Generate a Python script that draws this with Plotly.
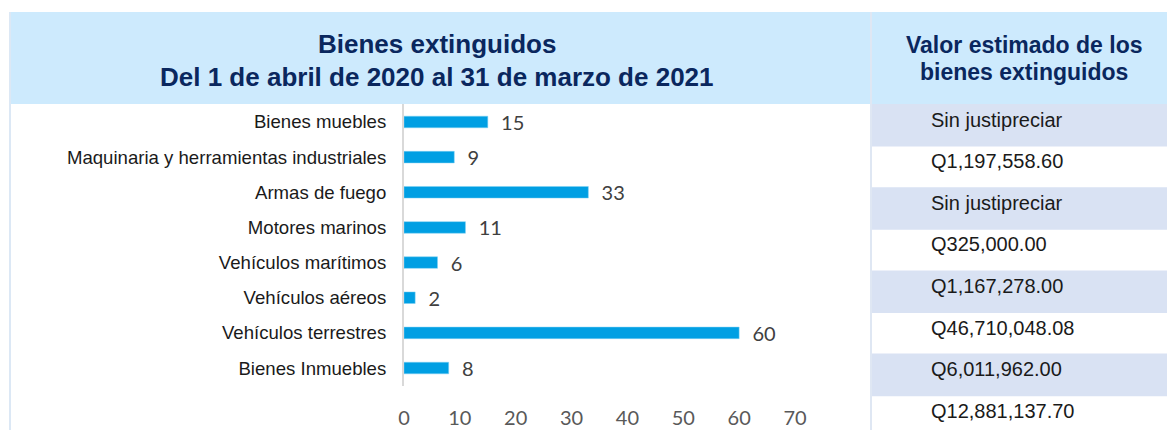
import plotly.graph_objects as go

W, H = 1167, 430

# data
categorias = ["Bienes muebles", "Maquinaria y herramientas industriales", "Armas de fuego",
              "Motores marinos", "Vehículos marítimos", "Vehículos aéreos",
              "Vehículos terrestres", "Bienes Inmuebles"]
cantidades = [15, 9, 33, 11, 6, 2, 60, 8]
valores = ["Sin justipreciar", "Q1,197,558.60", "Sin justipreciar", "Q325,000.00",
           "Q1,167,278.00", "Q46,710,048.08", "Q6,011,962.00", "Q12,881,137.70"]
x_ticks = [0, 10, 20, 30, 40, 50, 60, 70]

titulo = ["Bienes extinguidos", "Del 1 de abril de 2020 al 31 de marzo de 2021"]
titulo_valor = ["Valor estimado de los", "bienes extinguidos"]

NAVY = "#0a275e"


def px_x(p):
    return p / W


def px_y(p):
    return 1 - p / H


fig = go.Figure()
fig.add_trace(go.Bar(
    x=cantidades, y=categorias, orientation="h",
    marker=dict(color="#009fe3", line=dict(color="#7fd0f2", width=0.5)),
    width=0.33,
    text=cantidades, textposition="outside", texttemplate="  %{x}",
    constraintext="none",
    textfont=dict(family="Lato", size=20, color="#404040"),
    cliponaxis=False,
))

shapes = []
# header band
shapes.append(dict(type="rect", xref="paper", yref="paper",
                   x0=px_x(9), x1=px_x(1167), y0=px_y(104), y1=px_y(12),
                   fillcolor="#cdeafd", line=dict(width=0), layer="below"))
# left border
shapes.append(dict(type="rect", xref="paper", yref="paper",
                   x0=px_x(9), x1=px_x(11), y0=px_y(430), y1=px_y(12),
                   fillcolor="#dce8f5", line=dict(width=0), layer="below"))
# right column rows
row_h = 41.6
for i, v in enumerate(valores):
    top = 104 + i * row_h
    if i % 2 == 0:
        shapes.append(dict(type="rect", xref="paper", yref="paper",
                           x0=px_x(872), x1=px_x(1167), y0=px_y(min(top + row_h + 1, H)), y1=px_y(top),
                           fillcolor="#d9e2f3", line=dict(width=0), layer="below"))
    fig.add_annotation(text=v, xref="paper", yref="paper", x=px_x(929), y=px_y(top + 15.5),
                       xanchor="left", yanchor="middle", showarrow=False,
                       font=dict(family="Liberation Sans", size=20, color="#1a1a1a"))
# column separator
shapes.append(dict(type="rect", xref="paper", yref="paper",
                   x0=px_x(870), x1=px_x(872), y0=px_y(430), y1=px_y(12),
                   fillcolor="#dfe7f3", line=dict(width=0), layer="below"))

for linea, yy in zip(titulo, [44, 77]):
    fig.add_annotation(text="<b>" + linea + "</b>", xref="paper", yref="paper",
                       x=px_x(437), y=px_y(yy), xanchor="center", yanchor="middle", showarrow=False,
                       font=dict(family="Liberation Sans", size=26, color=NAVY))
for linea, yy in zip(titulo_valor, [45, 72]):
    fig.add_annotation(text="<b>" + linea + "</b>", xref="paper", yref="paper",
                       x=px_x(1024), y=px_y(yy), xanchor="center", yanchor="middle", showarrow=False,
                       font=dict(family="Liberation Sans", size=23, color=NAVY))

fig.update_layout(
    width=W, height=H,
    margin=dict(l=0, r=0, t=0, b=0, autoexpand=False),
    paper_bgcolor="white", plot_bgcolor="rgba(0,0,0,0)",
    showlegend=False,
    shapes=shapes,
    xaxis=dict(domain=[px_x(404), px_x(795)], range=[0, 70], tickvals=x_ticks,
               showgrid=False, zeroline=False, showline=False, ticks="", automargin=False,
               tickfont=dict(family="Lato", size=20, color="#595959"),
               ticklabelstandoff=18),
    yaxis=dict(domain=[px_y(385.6), px_y(104.4)], autorange="reversed", automargin=False,
               showgrid=False, zeroline=False, showline=True, linecolor="#d9d9d9", linewidth=2,
               ticks="", ticklabelstandoff=12,
               tickfont=dict(family="Liberation Sans", size=18.6, color="#1a1a1a")),
)

fig.write_html("out.html", config={"displayModeBar": False},
               post_script="document.body.style.margin='0';")
